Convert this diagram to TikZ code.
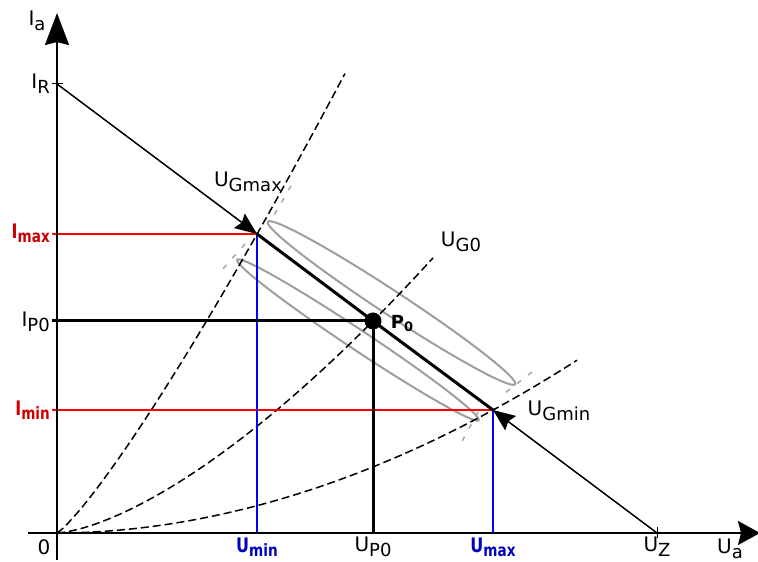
\documentclass[tikz,border=0pt]{standalone}
\usepackage{fontspec}
\setmainfont{DejaVu Sans}
\usetikzlibrary{arrows.meta, calc}

\newcommand{\ix}[2]{#1\raisebox{-5pt}{\fontsize{18}{20}\selectfont #2}}
\newcommand{\bix}[2]{\scalebox{0.8}[1]{\bfseries #1\raisebox{-4pt}{\fontsize{17}{19}\selectfont\bfseries #2}}}

\begin{document}
\begin{tikzpicture}[
  x=1pt, y=1pt,
  font=\fontsize{20}{23}\selectfont,
  axis/.style={line width=2.2pt},
  axtip/.style={-{Stealth[length=32pt, width=24pt, inset=3pt]}},
  tick/.style={line width=1pt},
  load/.style={line width=1.2pt},
  work/.style={line width=3pt},
  arr/.style={load, -{Stealth[length=22pt, width=18pt, inset=3pt]}},
  kenn/.style={line width=1.5pt, dash pattern=on 8pt off 4pt},
  hilf/.style={black!35, line width=1.5pt, dash pattern=on 5pt off 9pt},
  ring/.style={black!38, line width=2pt},
  redl/.style={draw=red, line width=1.3pt},
  bluel/.style={draw=blue, line width=1.3pt},
  lab/.style={inner sep=1pt},
  rlab/.style={lab, text=red!80!black},
  blab/.style={lab, text=blue!75!black}
]
  \useasboundingbox (-57,-29) rectangle (701,533);

  % Bezugspunkte
  \coordinate (O) at (0,0);
  \coordinate (IR) at (0,449);
  \coordinate (UZ) at (600,0);
  \coordinate (Pmax) at (200,299);
  \coordinate (P0) at (316,212);
  \coordinate (Pmin) at (436,123);
  \coordinate (E1) at (334.5,230);
  \coordinate (E2) at (301,193);

  % Ellipsen
  \draw[ring, rotate around={-33.3:(E1)}] (E1) ellipse [x radius=148, y radius=12];
  \draw[ring, rotate around={-33.6:(E2)}] (E2) ellipse [x radius=145, y radius=10];
  \draw[hilf] (234,347) -- (213,311);
  \draw[hilf] (188,289) -- (165,263);
  \draw[hilf] (475,161) -- (448,140);
  \draw[hilf] (421,121) -- (403,88);

  % Kennlinien
  \draw[kenn] (O) -- plot[domain=1:288, samples=60] (\x, {131.9*(\x/100)^1.18});
  \draw[kenn] (O) -- plot[domain=1:376, samples=60] (\x, {37.74*(\x/100)^1.5});
  \draw[kenn] (O) -- plot[domain=1:520, samples=60] (\x, {7.172*(\x/100)^1.93});

  % Hilfslinien
  \coordinate (ImaxT) at (-5,299);
  \coordinate (IP0T) at (-5,212);
  \coordinate (IminT) at (-5,123);
  \coordinate (UminB) at (200,0);
  \coordinate (UP0B) at (316,0);
  \coordinate (UmaxB) at (436,0);
  \draw[redl] (ImaxT) -- (Pmax);
  \draw[redl] (IminT) -- (Pmin);
  \draw[bluel] (Pmax) -- (UminB);
  \draw[bluel] (Pmin) -- (UmaxB);
  \draw[work] (IP0T) -- (P0);
  \draw[work] (P0) -- (UP0B);

  % Arbeitsgerade
  \draw[load] (IR) -- (UZ);
  \draw[arr] (IR) -- (Pmax);
  \draw[arr] (UZ) -- (Pmin);
  \draw[work] (Pmax) -- (P0) -- (Pmin);
  \fill (P0) circle (8.5);

  % Achsen
  \coordinate (xa) at (-29,0);
  \coordinate (xb) at (703,0);
  \coordinate (ya) at (0,-27);
  \coordinate (yb) at (0,520);
  \draw[axis, -{Stealth[length=22pt, width=24pt, inset=3pt]}] (xa) -- (xb);
  \draw[axis, axtip] (ya) -- (yb);
  \draw[tick] ($(IR)+(-5,0)$) -- ($(IR)+(6,0)$);
  \draw[tick] ($(UZ)+(0,-5)$) -- ($(UZ)+(0,6)$);

  % Beschriftung
  \node[lab] (la) at (-20,512) {\ix{I}{a}};
  \node[lab, anchor=east] (lir) at (-6,449) {\ix{I}{R}};
  \node[rlab, anchor=east] (limax) at (-6,300) {\bix{I}{max}};
  \node[lab, anchor=east] (lip0) at (-6,211) {\ix{I}{P0}};
  \node[rlab, anchor=east] (limin) at (-6,123) {\bix{I}{min}};
  \node[lab] (l0) at (-13,-14) {0};
  \node[blab] (lumin) at (200,-14) {\bix{U}{min}};
  \node[lab] (lup0) at (316,-14) {\ix{U}{P0}};
  \node[blab] (lumax) at (436,-14) {\bix{U}{max}};
  \node[lab] (luz) at (600,-14) {\ix{U}{Z}};
  \node[lab] (lua) at (673,-16) {\ix{U}{a}};
  \node[lab] (lgmax) at (191,351) {\ix{U}{Gmax}};
  \node[lab] (lg0) at (404,291) {\ix{U}{G0}};
  \node[lab] (lgmin) at (502,122) {\ix{U}{Gmin}};
  \node[lab] (lp0) at (345,209) {\fontsize{18}{20}\selectfont\textbf{P}\raisebox{-3pt}{\fontsize{13}{15}\selectfont\bfseries 0}};
\end{tikzpicture}
\end{document}
